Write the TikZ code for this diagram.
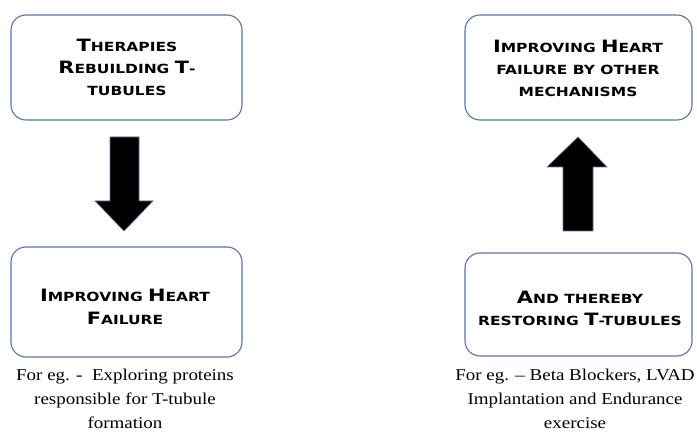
\documentclass[tikz,border=0pt]{standalone}
\usepackage{fontspec}
\setmainfont{Liberation Serif}
\newfontfamily\capsfont{DejaVu Sans Bold}
% large initial capital inside a small-caps heading
\newcommand\Bc[1]{{\fontsize{17}{22}\selectfont #1}}
\definecolor{boxline}{RGB}{90,115,165}
\tikzset{
  box/.style={draw=boxline, line width=1.1pt, rounded corners=15pt, fill=white},
  heading/.style={align=center, xscale=1.23, transform shape,
    font=\capsfont\fontsize{12.6}{22.3}\selectfont},
  note/.style={align=center, xscale=1.15, transform shape,
    font=\fontsize{16.5}{24}\selectfont},
  blockarrow/.style={fill=black, draw=boxline, line width=0.6pt, line join=miter},
}
\begin{document}
\begin{tikzpicture}[x=1pt, y=-1pt]
\useasboundingbox (0,0) rectangle (697,433);

% boxes
\draw[box] (11,15) rectangle (242,120);
\draw[box] (465,15) rectangle (692,120);
\draw[box] (11,247) rectangle (242,357);
\draw[box] (465,253) rectangle (692,356);

\node[heading] (t1) at (127,67.5) {\Bc{T}HERAPIES\\\Bc{R}EBUILDING \Bc{T}-\\TUBULES};
\node[heading] (t2) at (578,68.5) {\Bc{I}MPROVING \Bc{H}EART\\FAILURE BY OTHER\\MECHANISMS};
\node[heading] (t3) at (125,307) {\Bc{I}MPROVING \Bc{H}EART\\\Bc{F}AILURE};
\node[heading] (t4) at (580,308.5) {\Bc{A}ND THEREBY\\RESTORING \Bc{T}-TUBULES};

% examples under the lower boxes
\node[note] (n1) at (125,399) {For eg. -\ \ Exploring proteins\\responsible for T-tubule\\formation};
\node[note] (n2) at (575,399) {For eg. -- Beta Blockers, LVAD\\Implantation and Endurance\\exercise};

% block arrows
\draw[blockarrow] (110,137) -- (139,137) -- (139,201) -- (153,201) -- (124,231)
  -- (95,201) -- (110,201) -- cycle;
\draw[blockarrow] (563,231) -- (593,231) -- (593,167) -- (607,167) -- (578,137)
  -- (547,167) -- (563,167) -- cycle;
\end{tikzpicture}
\end{document}
